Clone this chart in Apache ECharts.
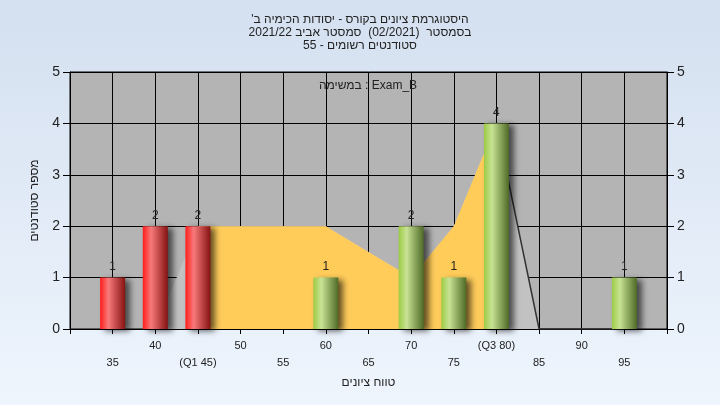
<!DOCTYPE html>
<html>
<head>
<meta charset="utf-8">
<script src="https://cdn.jsdelivr.net/npm/echarts@6/dist/echarts.min.js"></script>
<style>
html,body{margin:0;padding:0;}
#c{width:720px;height:405px;}
</style>
</head>
<body>
<div id="c" dir="rtl"></div>
<script>
// ---- data ----
const titleLines = [
  "היסטוגרמת ציונים בקורס - יסודות הכימיה ב'",
  "בסמסטר  (02/2021)  סמסטר אביב 2021/22",
  "סטודנטים רשומים - 55"
];
const legendText = "Exam_B : במשימה";
const xAxisName = "טווח ציונים";
const yAxisName = "מספר סטודנטים";

const xTickValues = [35, 40, 45, 50, 55, 60, 65, 70, 75, 80, 85, 90, 95];
const xTickLabels = ["35", "40", "(Q1 45)", "50", "55", "60", "65", "70", "75", "(Q3 80)", "85", "90", "95"];

const redGrades = [35, 40, 45];
const redCounts = [1, 2, 2];
const greenGrades = [60, 70, 75, 80, 95];
const greenCounts = [1, 2, 1, 4, 1];

const curveGrades = [35, 40, 45, 50, 55, 60, 65, 70, 75, 80, 85, 90, 95];
const curveValues = [0, 0, 2, 2, 2, 2, 1.5, 1, 2, 4, 0, 0, 0];
const iqrGrades = [45, 50, 55, 60, 65, 70, 75, 80];
const iqrValues = [2, 2, 2, 2, 1.5, 1, 2, 4];
const tailGrades = [80, 85, 90, 95];
const tailValues = [4, 0, 0, 0];

// ---- chart ----
const chart = echarts.init(document.getElementById('c'), null, {renderer: 'canvas'});
const G = echarts.graphic;
const redGrad = new G.LinearGradient(0, 0, 1, 0, [
  {offset: 0, color: '#ff1c1c'},
  {offset: 0.33, color: '#f77a7a'},
  {offset: 1, color: '#861212'}
]);
const greenGrad = new G.LinearGradient(0, 0, 1, 0, [
  {offset: 0, color: '#9ccb45'},
  {offset: 0.32, color: '#c8e394'},
  {offset: 1, color: '#4f6a26'}
]);
const font = 'Liberation Sans, Arial, sans-serif';
const pairs = (xs, ys) => xs.map((x, i) => [x, ys[i]]);

const barCommon = {
  type: 'bar',
  barWidth: 25,
  barGap: '-100%',
  z: 5,
  label: {show: true, position: 'top', distance: 5, color: '#222', fontSize: 12, fontFamily: font},
};

chart.setOption({
  backgroundColor: new G.LinearGradient(0, 0, 0, 1, [
    {offset: 0, color: '#d4e0f0'},
    {offset: 1, color: '#eef5fd'}
  ]),
  animation: false,
  title: {
    text: titleLines.join('\n'),
    left: 'center',
    top: 8,
    textStyle: {fontSize: 12, fontWeight: 'normal', color: '#222', lineHeight: 13, fontFamily: font}
  },
  graphic: [{
    type: 'text',
    x: 368, y: 86, z: 10,
    style: {text: legendText, fill: '#222', font: '12px ' + font, textAlign: 'center', textVerticalAlign: 'middle'}
  }],
  grid: {left: 70, right: 53, top: 72, bottom: 76, show: true, backgroundColor: '#b4b4b4', borderColor: '#000', borderWidth: 1},
  xAxis: {
    type: 'value', min: 30, max: 100, interval: 5,
    name: xAxisName, nameLocation: 'middle', nameGap: 48,
    nameTextStyle: {fontSize: 12, color: '#222', fontFamily: font},
    axisLine: {show: true, lineStyle: {color: '#000'}},
    axisTick: {show: true, length: 5, lineStyle: {color: '#000'}},
    splitLine: {show: true, lineStyle: {color: '#000', width: 1}},
    axisLabel: {
      margin: 8, fontSize: 11, color: '#222', lineHeight: 17, fontFamily: font,
      formatter: function (v) {
        const i = xTickValues.indexOf(v);
        if (i < 0) return '';
        const t = xTickLabels[i];
        return (v / 5) % 2 === 0 ? t + '\n ' : ' \n' + t;
      }
    }
  },
  yAxis: [{
    type: 'value', min: 0, max: 5, interval: 1, position: 'left',
    name: yAxisName, nameLocation: 'middle', nameGap: 29,
    nameTextStyle: {fontSize: 12, color: '#222', fontFamily: font},
    axisLine: {show: true, lineStyle: {color: '#000'}},
    axisTick: {show: true, length: 7, lineStyle: {color: '#000'}},
    splitLine: {show: true, lineStyle: {color: '#000', width: 1}},
    axisLabel: {margin: 10, fontSize: 14, color: '#222', fontFamily: font}
  }, {
    type: 'value', min: 0, max: 5, interval: 1, position: 'right',
    axisLine: {show: true, lineStyle: {color: '#000'}},
    axisTick: {show: true, length: 7, lineStyle: {color: '#000'}},
    splitLine: {show: false},
    axisLabel: {margin: 10, fontSize: 14, color: '#222', fontFamily: font}
  }],
  series: [
    {
      type: 'line', data: pairs(curveGrades, curveValues), symbol: 'none', z: 1,
      lineStyle: {width: 0}, areaStyle: {color: '#c2c2c2', opacity: 1}
    },
    {
      type: 'line', data: pairs(iqrGrades, iqrValues), symbol: 'none', z: 2,
      lineStyle: {width: 0}, areaStyle: {color: '#ffcc5a', opacity: 1}
    },
    {
      type: 'line', data: pairs(tailGrades, tailValues), symbol: 'none', z: 3,
      lineStyle: {width: 1.5, color: '#333'}
    },
    Object.assign({}, barCommon, {
      data: pairs(redGrades, redCounts),
      itemStyle: {color: redGrad, shadowColor: 'rgba(0,0,0,0.6)', shadowBlur: 6, shadowOffsetX: 5, shadowOffsetY: 2}
    }),
    Object.assign({}, barCommon, {
      data: pairs(greenGrades, greenCounts),
      itemStyle: {color: greenGrad, shadowColor: 'rgba(0,0,0,0.6)', shadowBlur: 6, shadowOffsetX: 5, shadowOffsetY: 2}
    })
  ]
});
</script>
</body>
</html>
